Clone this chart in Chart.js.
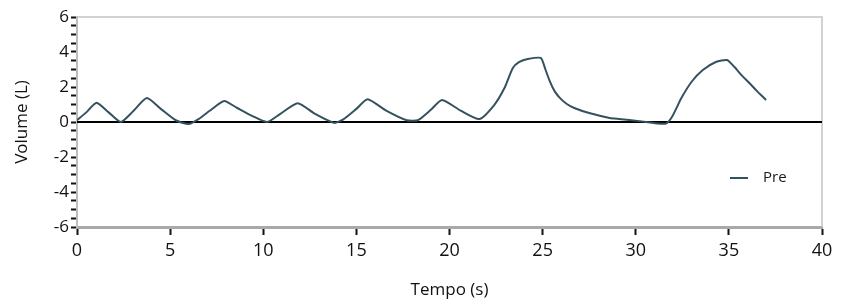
<!DOCTYPE html>
<html>
<head>
<meta charset="utf-8">
<script src="https://cdn.jsdelivr.net/npm/chart.js@4"></script>
<style>
  html, body { margin: 0; padding: 0; background: #fff; }
  #wrap { position: relative; width: 849px; height: 302px; }
</style>
</head>
<body>
<div id="wrap"><canvas id="chart_volume" width="849" height="302"></canvas></div>
<script>
// seconds
const tempo = [0, 0.5, 1.05, 1.7, 2.35, 3.0, 3.75, 4.5, 5.3, 6.0, 6.5, 7.2, 7.9, 8.6, 9.4, 10.2,
  10.9, 11.85, 12.8, 13.8, 14.3, 15.0, 15.6, 16.6, 17.7, 18.3, 19.0, 19.6, 20.6, 21.6,
  22.4, 22.95, 23.4, 23.75, 24.2, 24.9, 25.15, 25.4, 25.65, 25.95, 26.3, 26.7, 27.5, 28.6, 29.1, 30.2,
  31.6, 31.95, 32.45, 33.0, 33.6, 34.3, 34.9, 35.3, 35.7, 36.1, 36.5, 37.0];
// litres
const volume = [0.1, 0.55, 1.1, 0.55, 0.0, 0.6, 1.37, 0.75, 0.1, -0.12, 0.15, 0.7, 1.2, 0.8, 0.35, 0.0,
  0.45, 1.07, 0.45, -0.05, 0.15, 0.75, 1.3, 0.65, 0.1, 0.1, 0.7, 1.26, 0.65, 0.17,
  0.97, 1.94, 3.08, 3.43, 3.6, 3.66, 3.0, 2.29, 1.75, 1.35, 1.03, 0.8, 0.51, 0.23, 0.17, 0.05,
  -0.1, 0.3, 1.37, 2.3, 2.97, 3.43, 3.54, 3.14, 2.65, 2.23, 1.78, 1.26];
const xTicks = [0, 5, 10, 15, 20, 25, 30, 35, 40];
const yTicks = [-6, -4, -2, 0, 2, 4, 6];
const seriesLabel = 'Pre';

const font = "'Open Sans', 'DejaVu Sans', sans-serif";

const frame = {
  id: 'frame',
  beforeDatasetsDraw(chart) {
    const { ctx, chartArea: a } = chart;
    ctx.save();
    ctx.strokeStyle = '#c4c4c4';
    ctx.lineWidth = 1.5;
    ctx.beginPath();
    ctx.moveTo(a.left, a.top);
    ctx.lineTo(a.right, a.top);
    ctx.lineTo(a.right, a.bottom);
    ctx.stroke();
    ctx.restore();
  },
  afterDraw(chart) {
    // legend inside plot, lower right
    const { ctx, chartArea: a } = chart;
    const x = a.right - 92, y = a.top + 161;
    ctx.save();
    ctx.strokeStyle = '#34525e';
    ctx.lineWidth = 2;
    ctx.beginPath();
    ctx.moveTo(x, y);
    ctx.lineTo(x + 18, y);
    ctx.stroke();
    ctx.fillStyle = '#1a1a1a';
    ctx.font = "15px " + font;
    ctx.textBaseline = 'middle';
    ctx.fillText(seriesLabel, x + 33, y);
    ctx.restore();
  }
};

const data = {
  datasets: [
    {
      label: seriesLabel,
      data: tempo.map((t, i) => ({ x: t, y: volume[i] })),
      borderColor: '#34525e',
      borderWidth: 2,
      pointRadius: 0,
      tension: 0.2,
      order: 1
    },
    {
      label: 'zero',
      data: [{ x: xTicks[0], y: 0 }, { x: xTicks[xTicks.length - 1], y: 0 }],
      borderColor: '#000',
      borderWidth: 2,
      pointRadius: 0,
      order: 2
    }
  ]
};

const options = {
  responsive: false,
  animation: false,
  layout: { padding: { top: 17, right: 27, bottom: 0, left: 12 } },
  plugins: { legend: { display: false }, tooltip: { enabled: false } },
  scales: {
    x: {
      type: 'linear',
      min: xTicks[0],
      max: xTicks[xTicks.length - 1],
      afterBuildTicks: s => { s.ticks = xTicks.map(v => ({ value: v })); },
      afterFit: s => { s.height = 75; },
      border: { color: '#a9a9a9', width: 3 },
      grid: { drawOnChartArea: false, tickLength: 8, tickColor: '#111', tickWidth: 2 },
      ticks: { color: '#111', font: { family: font, size: 18 }, padding: 5, maxRotation: 0 },
      title: { display: true, text: 'Tempo (s)', color: '#111', font: { family: font, size: 17 }, padding: { top: 0, bottom: 2 } }
    },
    y: {
      min: yTicks[0],
      max: yTicks[yTicks.length - 1],
      ticks: {
        stepSize: 0.5,
        autoSkip: false,
        color: '#111',
        font: { family: font, size: 17 },
        padding: 2,
        callback: v => yTicks.includes(v) ? v : ''
      },
      afterFit: s => { s.width = 65; },
      border: { color: '#bdbdbd', width: 2 },
      grid: { drawOnChartArea: false, tickLength: 6, tickColor: '#111', tickWidth: 2 },
      title: { display: true, text: 'Volume (L)', color: '#111', font: { family: font, size: 17 }, padding: 0 }
    }
  }
};

new Chart('chart_volume', { type: 'line', data, options, plugins: [frame] });
</script>
</body>
</html>
